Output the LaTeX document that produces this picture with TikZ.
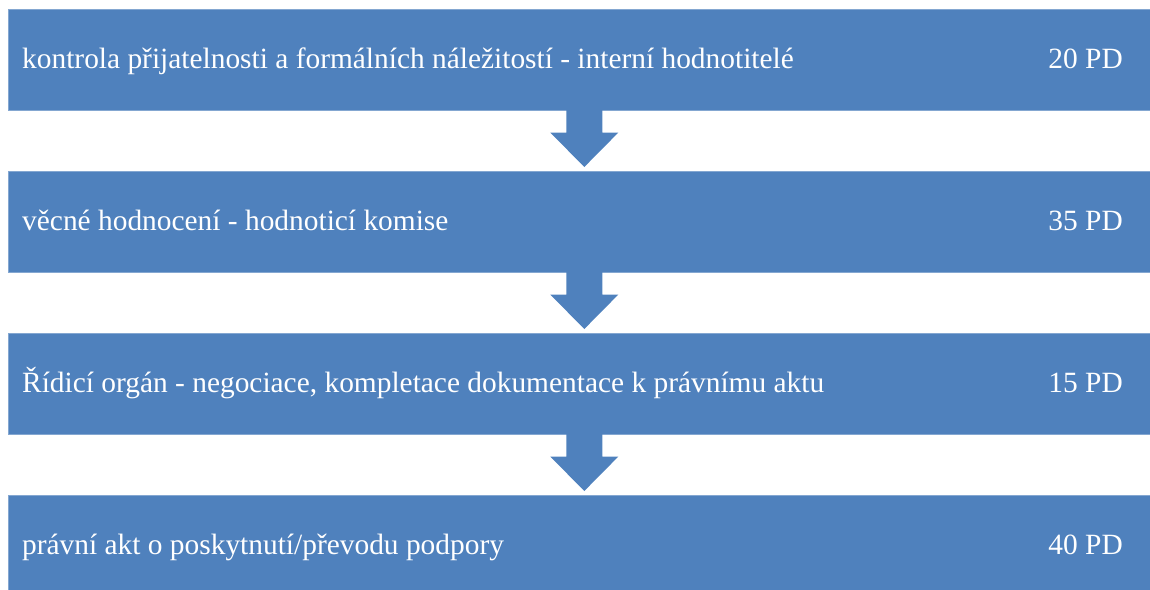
\documentclass[tikz,border=0pt]{standalone}
\usepackage{fontspec}
\setmainfont{Liberation Serif}
\usetikzlibrary{calc}
\definecolor{boxblue}{HTML}{4F81BD}
\begin{document}
\begin{tikzpicture}[x=1pt,y=-1pt,
  stagebox/.style={fill=boxblue,draw=boxblue!70!white,line width=0.6pt,minimum width=1150pt,minimum height=101pt,inner sep=0pt,anchor=north west},
  stagetext/.style={text=white,font=\fontsize{29.4}{33}\selectfont,anchor=base west,inner sep=0pt},
  daytext/.style={text=white,font=\fontsize{29.4}{33}\selectfont,anchor=base east,inner sep=0pt},
  flowarrow/.style={fill=boxblue}]
\useasboundingbox (0,0) rectangle (1150,589);
\begin{scope}
\clip (0,0) rectangle (1150,589);
\node[stagebox] (b1) at (8,9) {};
\node[stagebox] (b2) at (8,171) {};
\node[stagebox] (b3) at (8,333) {};
\node[stagebox,minimum height=110pt] (b4) at (8,495) {};
\foreach \a/\b in {b1/b2,b2/b3,b3/b4}{
  \fill[flowarrow] ($(\a.south)+(1-18,-1)$) -- ($(\a.south)+(1+18,-1)$) -- ($(\a.south)+(1+18,22)$) -- ($(\a.south)+(1+34,22)$) -- ($(\b.north)+(1,-4)$) -- ($(\a.south)+(1-34,22)$) -- ($(\a.south)+(1-18,22)$) -- cycle;
}
\end{scope}
\node[stagetext] (t1) at (22,68) {kontrola přijatelnosti a formálních náležitostí - interní hodnotitelé};
\node[daytext] (d1) at (1123,68) {20 PD};
\node[stagetext] (t2) at (22,230) {věcné hodnocení - hodnoticí komise};
\node[daytext] (d2) at (1123,230) {35 PD};
\node[stagetext] (t3) at (22,392) {Řídicí orgán - negociace, kompletace dokumentace k právnímu aktu};
\node[daytext] (d3) at (1123,392) {15 PD};
\node[stagetext] (t4) at (22,554) {právní akt o poskytnutí/převodu podpory};
\node[daytext] (d4) at (1123,554) {40 PD};
\end{tikzpicture}
\end{document}
